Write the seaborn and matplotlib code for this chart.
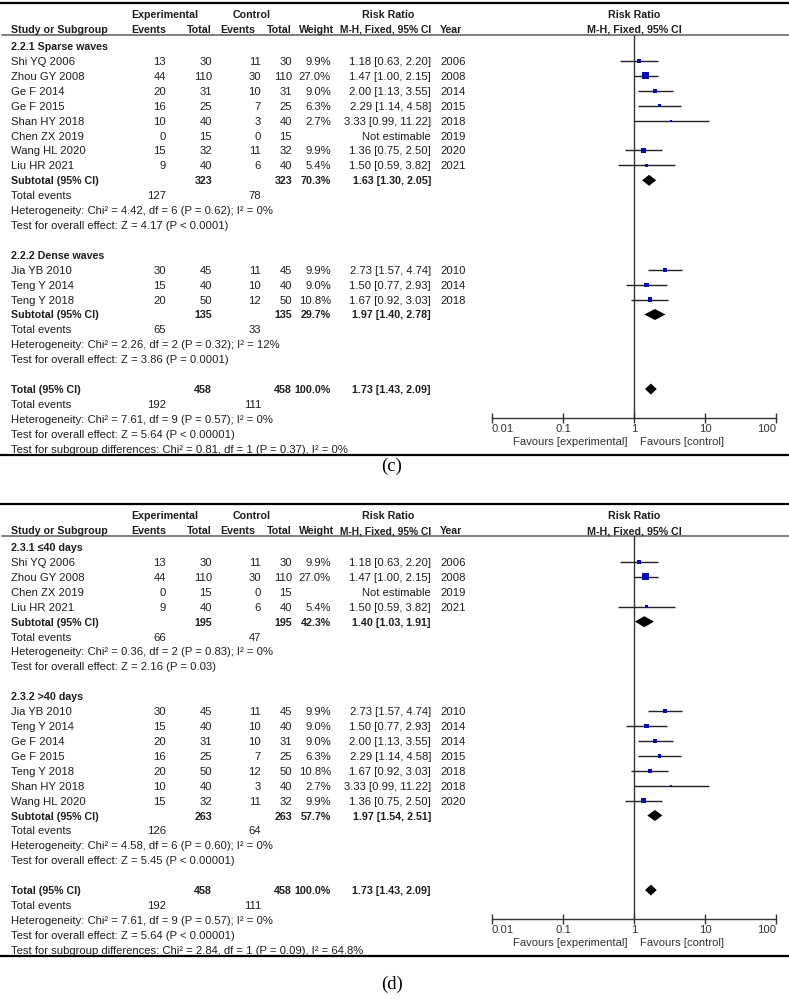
import numpy as np
import pandas as pd
import matplotlib.pyplot as plt
from matplotlib.ticker import NullLocator
import seaborn as sns

# ---- study level data ----
studies = ["Shi YQ 2006", "Zhou GY 2008", "Ge F 2014", "Ge F 2015", "Shan HY 2018",
           "Chen ZX 2019", "Wang HL 2020", "Liu HR 2021", "Jia YB 2010", "Teng Y 2014",
           "Teng Y 2018"]
exp_events = [13, 44, 20, 16, 10, 0, 15, 9, 30, 15, 20]
exp_total = [30, 110, 31, 25, 40, 15, 32, 40, 45, 40, 50]
ctl_events = [11, 30, 10, 7, 3, 0, 11, 6, 11, 10, 12]
ctl_total = [30, 110, 31, 25, 40, 15, 32, 40, 45, 40, 50]
weights = [9.9, 27.0, 9.0, 6.3, 2.7, np.nan, 9.9, 5.4, 9.9, 9.0, 10.8]
rr = [1.18, 1.47, 2.00, 2.29, 3.33, np.nan, 1.36, 1.50, 2.73, 1.50, 1.67]
rr_lo = [0.63, 1.00, 1.13, 1.14, 0.99, np.nan, 0.75, 0.59, 1.57, 0.77, 0.92]
rr_hi = [2.20, 2.15, 3.55, 4.58, 11.22, np.nan, 2.50, 3.82, 4.74, 2.93, 3.03]
years = [2006, 2008, 2014, 2015, 2018, 2019, 2020, 2021, 2010, 2014, 2018]

# ---- panel (c): sparse vs dense waves ----
c_titles = ["2.2.1 Sparse waves", "2.2.2 Dense waves"]
c_members = [["Shi YQ 2006", "Zhou GY 2008", "Ge F 2014", "Ge F 2015", "Shan HY 2018",
              "Chen ZX 2019", "Wang HL 2020", "Liu HR 2021"],
             ["Jia YB 2010", "Teng Y 2014", "Teng Y 2018"]]
c_sub_n = [323, 135]
c_sub_weight = [70.3, 29.7]
c_sub_rr = [1.63, 1.97]
c_sub_lo = [1.30, 1.40]
c_sub_hi = [2.05, 2.78]
c_sub_ev_exp = [127, 65]
c_sub_ev_ctl = [78, 33]
c_sub_het = ["Chi² = 4.42, df = 6 (P = 0.62); I² = 0%",
             "Chi² = 2.26, df = 2 (P = 0.32); I² = 12%"]
c_sub_z = ["Z = 4.17 (P < 0.0001)", "Z = 3.86 (P = 0.0001)"]
c_diff = "Chi² = 0.81, df = 1 (P = 0.37), I² = 0%"

# ---- panel (d): <=40 days vs >40 days ----
d_titles = ["2.3.1 ≤40 days", "2.3.2 >40 days"]
d_members = [["Shi YQ 2006", "Zhou GY 2008", "Chen ZX 2019", "Liu HR 2021"],
             ["Jia YB 2010", "Teng Y 2014", "Ge F 2014", "Ge F 2015", "Teng Y 2018",
              "Shan HY 2018", "Wang HL 2020"]]
d_sub_n = [195, 263]
d_sub_weight = [42.3, 57.7]
d_sub_rr = [1.40, 1.97]
d_sub_lo = [1.03, 1.54]
d_sub_hi = [1.91, 2.51]
d_sub_ev_exp = [66, 126]
d_sub_ev_ctl = [47, 64]
d_sub_het = ["Chi² = 0.36, df = 2 (P = 0.83); I² = 0%",
             "Chi² = 4.58, df = 6 (P = 0.60); I² = 0%"]
d_sub_z = ["Z = 2.16 (P = 0.03)", "Z = 5.45 (P < 0.00001)"]
d_diff = "Chi² = 2.84, df = 1 (P = 0.09), I² = 64.8%"

# ---- pooled result (same in both panels) ----
tot_n = 458
tot_rr, tot_lo, tot_hi = 1.73, 1.43, 2.09
tot_ev_exp, tot_ev_ctl = 192, 111
tot_het = "Chi² = 7.61, df = 9 (P = 0.57); I² = 0%"
tot_z = "Z = 5.64 (P < 0.00001)"

ticks = [0.01, 0.1, 1, 10, 100]
tick_labels = ["0.01", "0.1", "1", "10", "100"]

sns.set_theme(style="white")
plt.rcParams['font.family'] = ['Liberation Sans', 'DejaVu Sans']

W, H = 789, 999
FS = 8.1      # body text
FSB = 7.7     # bold header text
INK = '#1e1e1e'
fig = plt.figure(figsize=(W / 100, H / 100), dpi=100)
bg = fig.add_axes([0, 0, 1, 1])
bg.set_xlim(0, W)
bg.set_ylim(H, 0)
bg.axis('off')

# column positions (pixels)
X_NAME, X_EXP_EV, X_EXP_TOT, X_CTL_EV, X_CTL_TOT, X_WT, X_RR, X_YEAR = 11, 166, 212, 261, 292, 331, 431, 440


def put(x, y, s, ha='left', bold=False, color=INK, size=None):
    if size is None:
        size = FSB if bold else FS
    bg.text(x, y + 4.0, s, ha=ha, va='baseline', fontsize=size, color=color,
            fontweight='bold' if bold else 'normal')


def row_y(top, k):
    return top + 16.3 + 14.91 * k


def fmt_rr(est, lo, hi):
    if np.isnan(est):
        return "Not estimable"
    return "{:.2f} [{:.2f}, {:.2f}]".format(est, lo, hi)


def draw_panel(top, titles, members, sub_n, sub_w, sub_rr, sub_lo, sub_hi,
               sub_ev_e, sub_ev_c, sub_het, sub_z, diff, tag, tag_y):
    # frame lines
    bg.plot([0, W], [top + 3, top + 3], color='black', lw=1.6)
    bg.plot([2, W], [top + 34.5, top + 34.5], color='#808080', lw=1.4)
    bg.plot([0, W], [top + 455, top + 455], color='black', lw=1.6)

    # headers
    h1, h2 = top + 14, top + 29
    put(165, h1, "Experimental", ha='center', bold=True)
    put(252, h1, "Control", ha='center', bold=True)
    put(388, h1, "Risk Ratio", ha='center', bold=True)
    put(634, h1, "Risk Ratio", ha='center', bold=True)
    put(X_NAME, h2, "Study or Subgroup", bold=True)
    put(X_EXP_EV, h2, "Events", ha='right', bold=True)
    put(X_EXP_TOT, h2, "Total", ha='right', bold=True)
    put(X_CTL_EV - 6, h2, "Events", ha='right', bold=True)
    put(X_CTL_TOT, h2, "Total", ha='right', bold=True)
    put(X_WT + 3, h2, "Weight", ha='right', bold=True)
    put(X_RR, h2, "M-H, Fixed, 95% CI", ha='right', bold=True, size=7.4)
    put(X_YEAR, h2, "Year", bold=True)
    put(634, h2, "M-H, Fixed, 95% CI", ha='center', bold=True)

    # forest axes, y in the same pixel units as the table
    y_top, y_bot = top + 34.5, top + 417.6
    fax = fig.add_axes([492 / W, 1 - y_bot / H, 284 / W, (y_bot - y_top) / H])
    fax.set_facecolor('none')
    fax.set_xscale('log')

    study_rows = []
    diamonds = []
    k = 2
    for g in range(len(titles)):
        put(X_NAME, row_y(top, k), titles[g], bold=True)
        k += 1
        for name in members[g]:
            i = studies.index(name)
            y = row_y(top, k)
            put(X_NAME, y, name)
            put(X_EXP_EV, y, str(exp_events[i]), ha='right')
            put(X_EXP_TOT, y, str(exp_total[i]), ha='right')
            put(X_CTL_EV, y, str(ctl_events[i]), ha='right')
            put(X_CTL_TOT, y, str(ctl_total[i]), ha='right')
            if not np.isnan(weights[i]):
                put(X_WT, y, "{:.1f}%".format(weights[i]), ha='right')
            put(X_RR, y, fmt_rr(rr[i], rr_lo[i], rr_hi[i]), ha='right')
            put(X_YEAR, y, str(years[i]))
            study_rows.append(dict(study=name, y=y, rr=rr[i], lo=rr_lo[i],
                                   hi=rr_hi[i], weight=weights[i]))
            k += 1
        y = row_y(top, k)
        put(X_NAME, y, "Subtotal (95% CI)", bold=True)
        put(X_EXP_TOT, y, str(sub_n[g]), ha='right', bold=True)
        put(X_CTL_TOT, y, str(sub_n[g]), ha='right', bold=True)
        put(X_WT, y, "{:.1f}%".format(sub_w[g]), ha='right', bold=True)
        put(X_RR, y, fmt_rr(sub_rr[g], sub_lo[g], sub_hi[g]), ha='right', bold=True)
        diamonds.append((y, sub_rr[g], sub_lo[g], sub_hi[g]))
        k += 1
        y = row_y(top, k)
        put(X_NAME, y, "Total events")
        put(X_EXP_EV, y, str(sub_ev_e[g]), ha='right')
        put(X_CTL_EV, y, str(sub_ev_c[g]), ha='right')
        k += 1
        put(X_NAME, row_y(top, k), "Heterogeneity: " + sub_het[g])
        k += 1
        put(X_NAME, row_y(top, k), "Test for overall effect: " + sub_z[g])
        k += 2

    y = row_y(top, k)
    put(X_NAME, y, "Total (95% CI)", bold=True)
    put(X_EXP_TOT, y, str(tot_n), ha='right', bold=True)
    put(X_CTL_TOT, y, str(tot_n), ha='right', bold=True)
    put(X_WT, y, "100.0%", ha='right', bold=True)
    put(X_RR, y, fmt_rr(tot_rr, tot_lo, tot_hi), ha='right', bold=True)
    diamonds.append((y, tot_rr, tot_lo, tot_hi))
    k += 1
    y = row_y(top, k)
    put(X_NAME, y, "Total events")
    put(X_EXP_EV, y, str(tot_ev_exp), ha='right')
    put(X_CTL_EV, y, str(tot_ev_ctl), ha='right')
    k += 1
    put(X_NAME, row_y(top, k), "Heterogeneity: " + tot_het)
    k += 1
    put(X_NAME, row_y(top, k), "Test for overall effect: " + tot_z)
    k += 1
    put(X_NAME, row_y(top, k), "Test for subgroup differences: " + diff)

    # forest marks
    df = pd.DataFrame(study_rows)
    ok = df.dropna(subset=['rr'])
    fax.hlines(ok['y'], ok['lo'], ok['hi'], color='#222222', lw=1.0, zorder=2)
    sns.scatterplot(data=ok, x='rr', y='y', size='weight', sizes=(0, 26),
                    size_norm=(0, 27), marker='s', color='#0a0ab4', linewidth=0,
                    legend=False, ax=fax, zorder=3)
    for (y, est, lo, hi) in diamonds:
        fax.fill([lo, est, hi, est], [y, y - 5.5, y, y + 5.5], color='black', lw=0, zorder=3)
    fax.axvline(1, color='#333333', lw=1.0, zorder=1)

    fax.set_xlim(0.01, 100)
    fax.set_ylim(y_bot, y_top)
    fax.set_xlabel('')
    fax.set_ylabel('')
    fax.set_yticks([])
    fax.set_xticks(ticks)
    fax.set_xticklabels(tick_labels)
    fax.xaxis.set_minor_locator(NullLocator())
    fax.tick_params(axis='x', bottom=True, direction='inout', length=7, width=1,
                    color='#333333', labelsize=FS, labelcolor='#333333', pad=1)
    labs = fax.get_xticklabels()
    labs[0].set_ha('left')
    labs[-1].set_ha('right')
    for side in ['top', 'left', 'right']:
        fax.spines[side].set_visible(False)
    fax.spines['bottom'].set_color('#333333')
    fax.spines['bottom'].set_linewidth(1.0)

    put(628, top + 441, "Favours [experimental]", ha='right', color='#333333')
    put(640, top + 441, "Favours [control]", color='#333333')

    bg.text(392, tag_y, tag, ha='center', va='center', fontsize=13.5,
            family=['Liberation Serif'], color='black')


draw_panel(0, c_titles, c_members, c_sub_n, c_sub_weight, c_sub_rr, c_sub_lo, c_sub_hi,
           c_sub_ev_exp, c_sub_ev_ctl, c_sub_het, c_sub_z, c_diff, "(c)", 466)
draw_panel(501, d_titles, d_members, d_sub_n, d_sub_weight, d_sub_rr, d_sub_lo, d_sub_hi,
           d_sub_ev_exp, d_sub_ev_ctl, d_sub_het, d_sub_z, d_diff, "(d)", 984)

fig.savefig("out.png", dpi=100)
